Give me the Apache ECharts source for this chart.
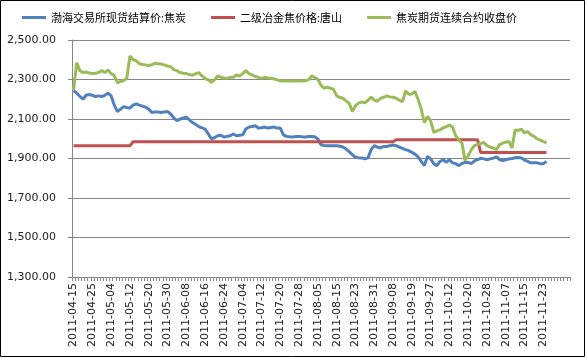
<!DOCTYPE html>
<html>
<head>
<meta charset="utf-8">
<script src="https://cdn.jsdelivr.net/npm/echarts@6/dist/echarts.min.js"></script>
<style>
html,body{margin:0;padding:0;background:#fff;}
#c{width:588px;height:359px;}
</style>
</head>
<body>
<div id="c"></div>
<script>
const categories = [
'2011-04-15','2011-04-18','2011-04-19','2011-04-20','2011-04-21','2011-04-22','2011-04-25','2011-04-26','2011-04-27','2011-04-28','2011-04-29',
'2011-05-03','2011-05-04','2011-05-05','2011-05-06','2011-05-09','2011-05-10','2011-05-11','2011-05-12','2011-05-13','2011-05-16','2011-05-17','2011-05-18','2011-05-19','2011-05-20','2011-05-23','2011-05-24','2011-05-25','2011-05-26','2011-05-27','2011-05-30','2011-05-31',
'2011-06-01','2011-06-02','2011-06-03','2011-06-07','2011-06-08','2011-06-09','2011-06-10','2011-06-13','2011-06-14','2011-06-15','2011-06-16','2011-06-17','2011-06-20','2011-06-21','2011-06-22','2011-06-23','2011-06-24','2011-06-27','2011-06-28','2011-06-29','2011-06-30',
'2011-07-01','2011-07-04','2011-07-05','2011-07-06','2011-07-07','2011-07-08','2011-07-11','2011-07-12','2011-07-13','2011-07-14','2011-07-15','2011-07-18','2011-07-19','2011-07-20','2011-07-21','2011-07-22','2011-07-25','2011-07-26','2011-07-27','2011-07-28','2011-07-29',
'2011-08-01','2011-08-02','2011-08-03','2011-08-04','2011-08-05','2011-08-08','2011-08-09','2011-08-10','2011-08-11','2011-08-12','2011-08-15','2011-08-16','2011-08-17','2011-08-18','2011-08-19','2011-08-22','2011-08-23','2011-08-24','2011-08-25','2011-08-26','2011-08-29','2011-08-30','2011-08-31',
'2011-09-01','2011-09-02','2011-09-05','2011-09-06','2011-09-07','2011-09-08','2011-09-09','2011-09-13','2011-09-14','2011-09-15','2011-09-16','2011-09-19','2011-09-20','2011-09-21','2011-09-22','2011-09-23','2011-09-26','2011-09-27','2011-09-28','2011-09-29','2011-09-30',
'2011-10-10','2011-10-11','2011-10-12','2011-10-13','2011-10-14','2011-10-17','2011-10-18','2011-10-19','2011-10-20','2011-10-21','2011-10-24','2011-10-25','2011-10-26','2011-10-27','2011-10-28','2011-10-31',
'2011-11-01','2011-11-02','2011-11-03','2011-11-04','2011-11-07','2011-11-08','2011-11-09','2011-11-10','2011-11-11','2011-11-14','2011-11-15','2011-11-16','2011-11-17','2011-11-18','2011-11-21','2011-11-22','2011-11-23','2011-11-24'
];
// blank rows at the end of the source range (axis extends past the data)
const blankCategories = ['','','','','','',''];

const seriesNames = ['渤海交易所现货结算价:焦炭','二级冶金焦价格:唐山','焦炭期货连续合约收盘价'];

const bohaiSpot = [
2244,2231,2215,2200,2220,2224,2220,2214,2217,2214,2220,2231,2217,2170,2138,2150,2163,2158,2155,2170,
2177,2170,2165,2160,2150,2133,2136,2135,2133,2136,2138,2126,2105,2092,2099,2105,2109,2096,2082,2072,
2062,2055,2049,2025,2000,2005,2015,2018,2009,2012,2015,2024,2015,2018,2020,2049,2059,2062,2066,2054,
2056,2059,2054,2057,2059,2054,2054,2020,2012,2010,2009,2011,2012,2010,2009,2011,2012,2010,1999,1970,
1966,1965,1965,1965,1965,1962,1958,1948,1935,1920,1906,1904,1903,1898,1903,1945,1965,1958,1953,1961,
1961,1965,1968,1965,1958,1951,1945,1940,1931,1922,1908,1885,1864,1911,1898,1874,1864,1885,1894,1880,
1894,1878,1874,1864,1875,1880,1880,1874,1888,1894,1901,1898,1894,1898,1902,1908,1895,1890,1894,1898,
1900,1904,1905,1903,1892,1885,1878,1878,1878,1874,1874,1885
];

const tangshanCoke = [
1965,1965,1965,1965,1965,1965,1965,1965,1965,1965,1965,1965,1965,1965,1965,1965,1965,1965,1965,1985,
1985,1985,1985,1985,1985,1985,1985,1985,1985,1985,1985,1985,1985,1985,1985,1985,1985,1985,1985,1985,
1985,1985,1985,1985,1985,1985,1985,1985,1985,1985,1985,1985,1985,1985,1985,1985,1985,1985,1985,1985,
1985,1985,1985,1985,1985,1985,1985,1985,1985,1985,1985,1985,1985,1985,1985,1985,1985,1985,1985,1985,
1985,1985,1985,1985,1985,1985,1985,1985,1985,1985,1985,1985,1985,1985,1985,1985,1985,1985,1985,1985,
1985,1985,1985,1995,1995,1995,1995,1995,1995,1995,1995,1995,1995,1995,1995,1995,1995,1995,1995,1995,
1995,1995,1995,1995,1995,1995,1995,1995,1995,1995,1930,1930,1930,1930,1930,1930,1930,1930,1930,1930,
1930,1930,1930,1930,1930,1930,1930,1930,1930,1930,1930,1930
];

const cokeFutures = [
2247,2385,2345,2335,2338,2333,2330,2332,2335,2345,2335,2348,2330,2320,2283,2290,2295,2306,2419,2400,
2395,2380,2376,2374,2370,2375,2382,2380,2378,2374,2368,2365,2350,2345,2335,2332,2330,2325,2322,2330,
2335,2318,2305,2298,2286,2298,2318,2311,2308,2306,2311,2311,2323,2318,2330,2345,2330,2323,2315,2311,
2306,2311,2308,2306,2303,2298,2293,2293,2292,2293,2293,2292,2293,2293,2294,2298,2318,2310,2301,2270,
2256,2261,2256,2250,2217,2210,2205,2192,2180,2138,2167,2180,2187,2182,2195,2211,2195,2190,2205,2210,
2217,2212,2210,2205,2195,2188,2242,2225,2227,2239,2200,2150,2082,2113,2092,2032,2040,2045,2055,2062,
2069,2059,2015,1995,1978,1890,1914,1945,1965,1972,1975,1981,1965,1958,1953,1945,1970,1978,1983,1986,
1953,2045,2042,2049,2029,2037,2020,2012,2000,1993,1986,1978
];

const yMin = 1300, yMax = 2500, yStep = 200;
const colors = ['#4F81BD','#C0504D','#9BBB59'];

function fmt(v){
  const s = v.toFixed(2);
  const parts = s.split('.');
  parts[0] = parts[0].replace(/\B(?=(\d{3})+(?!\d))/g, ',');
  return parts.join('.');
}

const chart = echarts.init(document.getElementById('c'), null, {renderer:'canvas'});
const mk = (name, data, color) => ({
  name, type:'line', data, showSymbol:false, symbol:'none',
  lineStyle:{width:3, color}, itemStyle:{color}, animation:false
});
chart.setOption({
  animation:false,
  color: colors,
  legend:{
    left:17, top:7, itemWidth:24, itemHeight:3, itemGap:25, icon:'rect',
    textStyle:{fontFamily:'Noto Sans CJK SC', fontSize:11, color:'#000'},
    data: seriesNames
  },
  grid:{left:72, right:18, top:40, bottom:82, containLabel:false},
  xAxis:{
    type:'category', boundaryGap:true,
    data: categories.concat(blankCategories),
    axisLine:{lineStyle:{color:'#868686', width:1}},
    axisTick:{show:true, interval:0, length:4, lineStyle:{color:'#868686'}},
    axisLabel:{interval:5, rotate:90, margin:6, fontFamily:'DejaVu Sans', fontSize:11, color:'#222'},
    splitLine:{show:false}
  },
  yAxis:{
    type:'value', min:yMin, max:yMax, interval:yStep,
    axisLine:{show:true, lineStyle:{color:'#868686'}},
    axisTick:{show:true, length:4, lineStyle:{color:'#868686'}},
    axisLabel:{formatter:fmt, margin:16, fontFamily:'DejaVu Sans', fontSize:11, color:'#222'},
    splitLine:{lineStyle:{color:'#868686', width:1}}
  },
  graphic:[{type:'rect', shape:{x:0.5,y:0.5,width:584,height:356}, style:{fill:'none', stroke:'#000', lineWidth:1}, silent:true}],
  series:[
    mk(seriesNames[0], bohaiSpot, colors[0]),
    mk(seriesNames[1], tangshanCoke, colors[1]),
    mk(seriesNames[2], cokeFutures, colors[2])
  ]
});
</script>
</body>
</html>
